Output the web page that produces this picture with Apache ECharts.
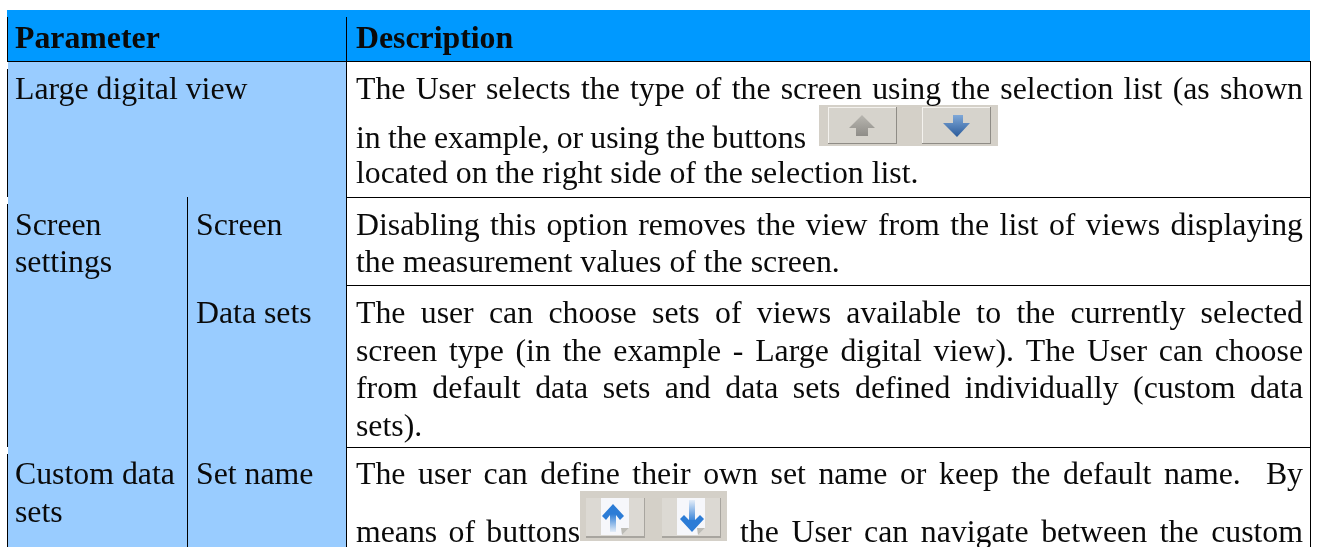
<!DOCTYPE html>
<html>
<head>
<meta charset="utf-8">
<title>Parameter table</title>
<script src="https://cdn.jsdelivr.net/npm/echarts@6/dist/echarts.min.js"></script>
<style>
html,body{margin:0;padding:0;background:#fff;}
#main{width:1317px;height:547px;}
</style>
</head>
<body>
<div id="main"></div>
<script>
// table text
var headers=['Parameter','Description'];
var param1=['Large digital view'];
var param2=['Screen','settings'];
var param3=['Custom data','sets'];
var sub1=['Screen'];
var sub2=['Data sets'];
var sub3=['Set name'];
var descLarge=[
  'The User selects the type of the screen using the selection list (as shown',
  'in the example, or using the buttons',
  'located on the right side of the selection list.'
];
var descScreen=[
  'Disabling this option removes the view from the list of views displaying',
  'the measurement values of the screen.'
];
var descData=[
  'The user can choose sets of views available to the currently selected',
  'screen type (in the example - Large digital view). The User can choose',
  'from default data sets and data sets defined individually (custom data',
  'sets).'
];
var descSet=[
  'The user can define their own set name or keep the default name.  By',
  'means of buttons',
  'the User can navigate between the custom'
];

var FS=31.8;
var FONT='"Liberation Serif"';
var BASE_SHIFT=7.2; // text anchor to baseline
var ctx=document.createElement('canvas').getContext('2d');
var els=[];

function rect(x,y,w,h,fill,z){
  els.push({type:'rect',silent:true,z:z||1,shape:{x:x,y:y,width:w,height:h},style:{fill:fill}});
}
function poly(pts,fill){
  els.push({type:'polygon',silent:true,z:5,shape:{points:pts},style:{fill:fill}});
}
function vgrad(a,b){
  return new echarts.graphic.LinearGradient(0,0,0,1,[{offset:0,color:a},{offset:1,color:b}]);
}
function text(str,x,base,bold){
  els.push({type:'text',silent:true,z:10,x:x,y:base-BASE_SHIFT,style:{
    text:str,fill:'#0a0a0a',fontSize:FS,fontFamily:FONT,fontWeight:bold?'bold':'normal',
    align:'left',verticalAlign:'middle'
  }});
}
// one line stretched between x0 and x1, word by word
function justify(str,x0,x1,base){
  ctx.font=FS+'px '+FONT;
  var words=str.split(' ');
  var sum=0;
  for(var i=0;i<words.length;i++){
    sum+=ctx.measureText(words[i]).width;
  }
  var gap=(x1-x0-sum)/(words.length-1);
  var x=x0;
  for(var j=0;j<words.length;j++){
    if(words[j]!==''){
      text(words[j],x,base,false);
    }
    x+=ctx.measureText(words[j]).width+gap;
  }
}

// fills
rect(7,10,1303,51,'#0099ff');
rect(8,62,338,485,'#99ccff');

// rules
var LINE='#000';
rect(7,17,1,44,LINE,3);
rect(7,69,1,128,LINE,3);
rect(7,204,1,243,LINE,3);
rect(7,454,1,93,LINE,3);
rect(346,17,1,530,LINE,3);
rect(187,197,1,350,LINE,3);
rect(1310,61,1,486,LINE,3);
rect(7,61,1304,1,LINE,3);
rect(346,197,965,1,LINE,3);
rect(346,285,965,1,LINE,3);
rect(346,447,965,1,LINE,3);

// header and left columns
text(headers[0],15,47,true);
text(headers[1],356,47,true);
text(param1[0],15,98);
text(param2[0],15,234);
text(param2[1],15,271);
text(param3[0],15,483);
text(param3[1],15,521);
text(sub1[0],196,234);
text(sub2[0],196,322);
text(sub3[0],196,483);

// description column
var L=356,R=1303;
justify(descLarge[0],L,R,98);
justify(descLarge[1],L,806,147);
text(descLarge[2],L,182);
justify(descScreen[0],L,R,234);
text(descScreen[1],L,271);
justify(descData[0],L,R,322);
justify(descData[1],L,R,360);
justify(descData[2],L,R,397);
text(descData[3],L,435);
justify(descSet[0],L,R,483);
justify(descSet[1],L,580,541);
justify(descSet[2],740,R,541);

// up / down toolbar buttons, first row
rect(819,105,179,41,'#d4d0c8',2);
function btn(x,y,w,h){
  rect(x,y,w,h,'#8f8c86',3);
  rect(x,y,w-1,h-1,'#f4f2ee',3);
  rect(x+1,y+1,w-2,h-2,'#d6d3cc',3);
}
btn(828,107,69,37);
btn(922,107,69,37);
poly([[862,115],[875,128],[868,128],[868,136],[856,136],[856,128],[849,128]],vgrad('#b8b6b0','#8f8d88'));
poly([[953,115],[963,115],[963,123],[970,123],[957,137],[943,123],[953,123]],vgrad('#7fa8d8','#2a5a9a'));

// page style buttons, second row
rect(580,491,147,50,'#d4d0c8',2);
function softBtn(x,w){
  rect(x,498,w,40,'#a8a59f',3);
  rect(x,498,w-1,38,'#dcd9d3',3);
}
softBtn(586,59);
softBtn(662,59);
function page(x){
  poly([[x,498],[x+28,498],[x+28,528],[x+21,535],[x,535]],'#f6f7fb');
  poly([[x+28,528],[x+21,535],[x+20,528]],'#bdbcb6');
}
page(601);
page(677);
// chevron arrows with a fading stem
poly([[613,504],[624,516],[620,520],[616,515],[610,515],[606,520],[602,516]],'#2c7cd6');
poly([[610,514],[616,514],[616,532],[610,532]],vgrad('#2c7cd6','#e4edf8'));
poly([[689,500],[695,500],[695,522],[689,522]],vgrad('#e4edf8','#2c7cd6'));
poly([[692,532],[680,519],[684,515],[689,520],[695,520],[700,515],[704,519]],'#2c7cd6');

var chart=echarts.init(document.getElementById('main'),null,{renderer:'canvas'});
chart.setOption({
  animation:false,
  backgroundColor:'#fff',
  graphic:{elements:els}
});
</script>
</body>
</html>
